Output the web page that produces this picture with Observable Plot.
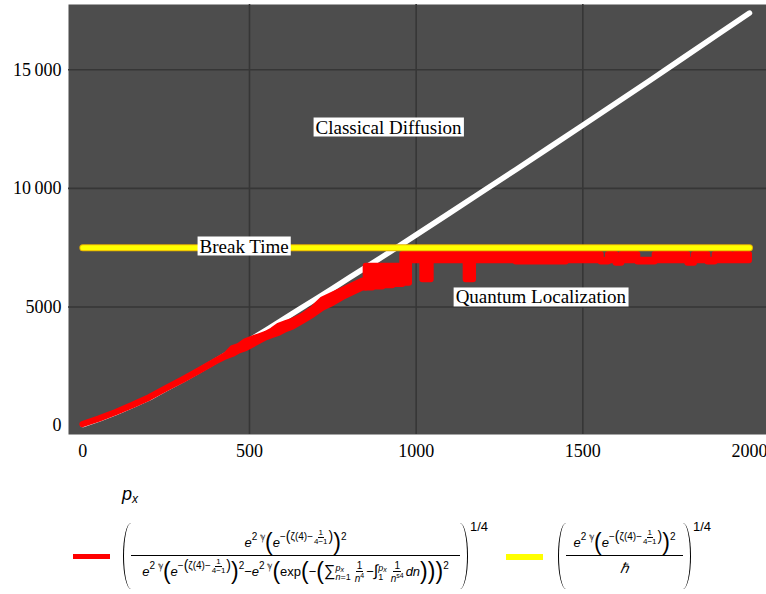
<!DOCTYPE html>
<html><head><meta charset="utf-8">
<script src="https://cdn.jsdelivr.net/npm/d3@7"></script>
<script src="https://cdn.jsdelivr.net/npm/@observablehq/plot@0.6"></script>
<style>
html,body{margin:0;padding:0;background:#fff;}
#wrap{width:766px;height:594px;position:relative;overflow:hidden;}
#chart svg{display:block;overflow:visible}
.legend{position:relative;width:766px;height:124px;font-family:"Liberation Sans",Arial,sans-serif;color:#000;}
.px{position:absolute;left:122px;top:14px;font-size:18px;font-style:italic;}
.px sub{font-size:12px;vertical-align:-3px}
.sw{position:absolute;width:37px;height:5px;top:84px;}
.f{position:absolute;display:flex;align-items:center;font-size:13px;white-space:nowrap;}
.pl,.pr{width:8px;height:66px;box-sizing:border-box;flex:none}
.pl{border-left:1.6px solid #000;border-radius:100% 0 0 100% / 50% 0 0 50%;}
.pr{border-right:1.6px solid #000;border-radius:0 100% 100% 0 / 0 50% 50% 0;}
.q{align-self:flex-start;font-size:13px;margin-top:-3px;margin-left:2px}
.bf{display:flex;flex-direction:column;}
.bf>.n{height:34px;display:flex;align-items:flex-end;justify-content:center;border-bottom:1.4px solid #000;box-sizing:border-box;padding-bottom:1px}
.bf>.d{height:34px;display:flex;align-items:flex-start;justify-content:center;padding-top:2px;box-sizing:border-box}
i{font-style:italic}
.s1{font-size:10px;vertical-align:7px}
.mp{font-size:23px;line-height:1;vertical-align:-3px;font-weight:300}
.mp2{font-size:14px;line-height:1;vertical-align:-1px}
.tf{display:inline-flex;flex-direction:column;align-items:center;font-size:8px;line-height:1;vertical-align:middle;margin:0 1px}
.tf>span:first-child{border-bottom:0.8px solid #000;padding:0 1px}
.tf2{display:inline-flex;flex-direction:column;align-items:center;font-size:10px;line-height:1.05;vertical-align:middle;margin:0 2px}
.tf2>span:first-child{border-bottom:0.8px solid #000;padding:0 1px}
.lim{display:inline-flex;flex-direction:column;font-size:9px;line-height:1;vertical-align:middle;margin-right:2px}
.lim sub{font-size:7px;vertical-align:-1px}
.big{font-size:16px}
</style></head><body>
<div id="wrap"><div id="chart"></div>
<div class="legend" id="legend"></div>
</div>
<script>
// ---- data ----
const whiteX = [0, 50, 100, 150, 200, 250, 300, 350, 400, 450, 500, 550, 600, 650, 700, 750, 800, 850, 900, 1000, 1100, 1200, 1300, 1400, 1500, 1600, 1700, 1800, 1900, 2000];
const whiteY = [50, 290, 560, 860, 1180, 1560, 1930, 2330, 2740, 3160, 3600, 4030, 4470, 4910, 5350, 5790, 6240, 6680, 7130, 8040, 8960, 9880, 10800, 11730, 12660, 13600, 14540, 15490, 16440, 17390];

const riseX  = [0, 50, 100, 150, 200, 250, 300, 350, 400, 430, 450, 470, 490, 510, 530, 550, 570, 590, 610, 630, 660, 690, 720, 750, 780, 810, 840, 850];
const riseLo = [40, 280, 550, 840, 1160, 1540, 1900, 2290, 2690, 2900, 3000, 3150, 3250, 3400, 3550, 3700, 3800, 3900, 4050, 4150, 4400, 4650, 4950, 5150, 5400, 5600, 5800, 5800];
const riseHi = [50, 290, 560, 860, 1180, 1560, 1930, 2320, 2720, 2960, 3250, 3350, 3550, 3650, 3750, 3850, 4000, 4200, 4300, 4400, 4600, 4900, 5300, 5500, 5700, 5900, 6100, 6100];

const plateauX  = [850, 870, 900, 930, 960, 980, 1020, 1045, 1150, 1172, 1300, 1450, 1555, 1577, 1600, 1617, 1665, 1717, 1815, 1835, 1875, 1897, 1945, 1957, 2000];
const plateauLo = [5800, 5850, 5900, 5950, 6000, 6950, 6150, 6950, 6150, 6950, 6900, 6950, 6900, 6950, 6850, 6950, 6900, 6950, 6850, 6950, 6900, 6950, 6950, 6950, 6950];
const plateauHi = [6720, 6720, 6720, 6720, 7220, 7220, 7220, 7220, 7220, 7220, 7220, 7220, 6970, 7220, 6970, 7220, 6970, 7220, 6970, 7220, 6970, 7220, 6970, 7220, 7220];

const breakX = [0, 2000];
const breakY = [7500, 7500];

const labelText = ["Classical Diffusion", "Break Time", "Quantum Localization"];
const labelX = [917, 484, 1374];
const labelY = [12570, 7556, 5408];

const xTicks = [0, 500, 1000, 1500, 2000];
const xTickLabels = ["0", "500", "1000", "1500", "2000"];
const yTicks = [0, 5000, 10000, 15000];
const yTickLabels = ["0", "5000", "10\u2009000", "15\u2009000"];
const gridXVals = [500, 1000, 1500];
const gridYVals = [5000, 10000, 15000];

// ---- tables ----
const classical = whiteX.map((x, i) => ({x, y: whiteY[i]}));
const rise = riseX.map((x, i) => ({x, lo: riseLo[i], hi: riseHi[i]}));
const plateau = plateauX.map((x, i) => ({x, lo: plateauLo[i], hi: plateauHi[i]}));
const brk = breakX.map((x, i) => ({x, y: breakY[i]}));
const labels = labelText.map((t, i) => ({t, x: labelX[i], y: labelY[i]}));

const serif = '"Liberation Serif","Times New Roman",serif';
const plot = Plot.plot({
  width: 766, height: 470,
  marginLeft: 68, marginRight: 0, marginTop: 4, marginBottom: 36,
  style: {fontFamily: serif, fontSize: "18px", color: "#000", background: "#fff", overflow: "visible"},
  x: {domain: [-43, 2051]},
  y: {domain: [-370, 17750]},
  marks: [
    Plot.frame({fill: "#4d4d4d", stroke: null}),
    Plot.gridX(gridXVals, {stroke: "#363636", strokeOpacity: 1, strokeWidth: 1.6}),
    Plot.gridY(gridYVals, {stroke: "#363636", strokeOpacity: 1, strokeWidth: 1.6}),
    Plot.line(classical, {x: "x", y: "y", stroke: "#ffffff", strokeWidth: 5.5}),
    Plot.areaY(rise, {x: "x", y1: "lo", y2: "hi", fill: "#ff0000", stroke: "#ff0000", strokeWidth: 6}),
    Plot.areaY(plateau, {x: "x", y1: "lo", y2: "hi", curve: "step-after", fill: "#ff0000", stroke: "#ff0000", strokeWidth: 6}),
    Plot.line(brk, {x: "x", y: "y", stroke: "#e8b400", strokeWidth: 7}),
    Plot.line(brk, {x: "x", y: "y", stroke: "#ffff00", strokeWidth: 5}),
    Plot.text(labels, {x: "x", y: "y", text: "t", fill: "#000", fontSize: 19, fontFamily: serif, textAnchor: "middle"}),
    Plot.axisX(xTicks, {tickSize: 0, tickPadding: 10, tickFormat: d => xTickLabels[xTicks.indexOf(d)], label: null, line: true, stroke: "#2b2b2b", strokeWidth: 2, fontFamily: serif, fontSize: 18, fill: "#000"}),
    Plot.axisY(yTicks, {tickSize: 0, tickPadding: 7, tickFormat: d => yTickLabels[yTicks.indexOf(d)], label: null, line: true, stroke: "#2b2b2b", strokeWidth: 2, fontFamily: serif, fontSize: 18, fill: "#000"})
  ]
});
document.getElementById("chart").appendChild(plot);

// white boxes behind curve labels
plot.querySelectorAll('g[aria-label="text"] text').forEach(t => {
  const b = t.getBBox();
  const r = document.createElementNS("http://www.w3.org/2000/svg", "rect");
  r.setAttribute("x", b.x - 2);
  r.setAttribute("y", b.y + 1);
  r.setAttribute("width", b.width + 4);
  r.setAttribute("height", b.height - 2);
  r.setAttribute("fill", "#fff");
  if (t.getAttribute("transform")) r.setAttribute("transform", t.getAttribute("transform"));
  t.parentNode.insertBefore(r, t);
});

// ---- legend ----
const seriesColors = ["#ff0000", "#ffff00"];
const gammaPart = `<i>e</i><sup class="s1">2 ℽ</sup>`;
const zetaPart = `${gammaPart}<span class="mp">(</span><i>e</i><sup class="s1">−<span class="mp2">(</span>ζ(4)−<span class="tf"><span>1</span><span>4−1</span></span><span class="mp2">)</span></sup><span class="mp">)</span><sup class="s1">2</sup>`;
const sumPart = `${gammaPart}<span class="mp">(</span>exp<span class="mp">(</span>−<span class="mp">(</span><span class="big">∑</span><span class="lim"><span><i>p</i><sub><i>x</i></sub></span><span><i>n</i>=1</span></span><span class="tf2"><span>1</span><span><i>n</i><sup style="font-size:7px">4</sup></span></span>−<span class="big">∫</span><span class="lim"><span><i>p</i><sub><i>x</i></sub></span><span>1</span></span><span class="tf2"><span>1</span><span><i>n</i><sup style="font-size:7px">s4</sup></span></span><i>dn</i><span class="mp">)</span><span class="mp">)</span><span class="mp">)</span><sup class="s1">2</sup>`;

document.getElementById("legend").innerHTML = `
<div class="px"><i>p</i><sub><i>x</i></sub></div>
<div class="sw" style="left:73px;background:${seriesColors[0]}"></div>
<div class="f" style="left:123px;top:52px">
  <div class="pl"></div>
  <div class="bf" style="width:329px">
    <div class="n"><span>${zetaPart}</span></div>
    <div class="d"><span>${zetaPart}−${sumPart}</span></div>
  </div>
  <div class="pr"></div><div class="q">1/4</div>
</div>
<div class="sw" style="left:506px;height:6px;background:${seriesColors[1]}"></div>
<div class="f" style="left:558px;top:52px">
  <div class="pl"></div>
  <div class="bf" style="width:117px">
    <div class="n"><span>${zetaPart}</span></div>
    <div class="d"><span style="font-size:14px"><i>ℏ</i></span></div>
  </div>
  <div class="pr"></div><div class="q">1/4</div>
</div>`;
</script>
</body></html>
